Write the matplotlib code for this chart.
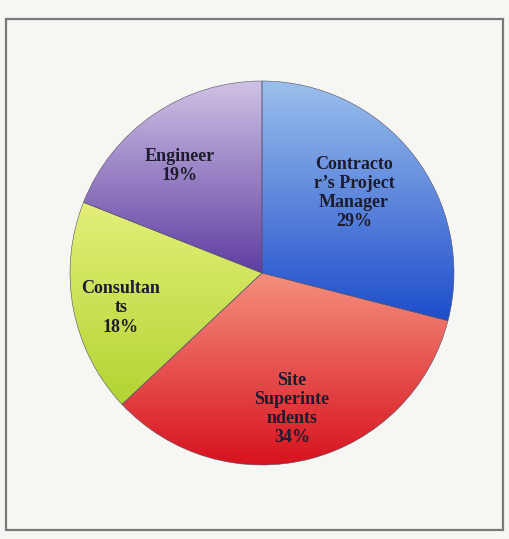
import matplotlib.pyplot as plt
import numpy as np
from matplotlib.colors import LinearSegmentedColormap
from matplotlib.patches import Rectangle

labels = ["Contracto\nr’s Project\nManager", "Site\nSuperinte\nndents", "Consultan\nts", "Engineer"]
shares = [29, 34, 18, 19]
# light (top) and dark (bottom) shade for each slice
tops = ["#9cc0ec", "#f4907e", "#e4ef7a", "#cfc2e4"]
bottoms = ["#1d4ccb", "#d8121f", "#b2d432", "#5e3ea2"]

W, H = 510, 539
fig = plt.figure(figsize=(W / 100, H / 100), dpi=100)
fig.patch.set_facecolor("#f6f7f3")
ax = fig.add_axes([0, 0, 1, 1])

cx, cy, r = 262, H - 273, 192

wedges, _ = ax.pie(shares, startangle=90, counterclock=False,
                   center=(cx, cy), radius=r, frame=True)
ax.set_xlim(0, W)
ax.set_ylim(0, H)
ax.set_aspect("equal")
ax.axis("off")

grad = np.linspace(0, 1, 256).reshape(-1, 1)
for w, c0, c1 in zip(wedges, tops, bottoms):
    # bounding box of the slice, so each one shades top to bottom on its own
    t = np.radians(np.linspace(w.theta1, w.theta2, 200))
    xs = np.append(cx + r * np.cos(t), cx)
    ys = np.append(cy + r * np.sin(t), cy)
    cmap = LinearSegmentedColormap.from_list("g", [c0, c1])
    im = ax.imshow(grad, cmap=cmap, aspect="auto", origin="upper",
                   extent=(xs.min(), xs.max(), ys.min(), ys.max()), zorder=1)
    im.set_clip_path(w)
    w.set_facecolor("none")
    w.set_edgecolor("#55506a")
    w.set_linewidth(0.4)
    w.set_zorder(2)

# label positions in pixel space (from top-left)
label_xy = [(354, 193), (292, 409), (121, 308), (180, 166)]
for txt, pct, (x, y) in zip(labels, shares, label_xy):
    ax.text(x, H - y, f"{txt}\n{pct}%", ha="center", va="center",
            fontsize=13, fontweight="bold", family="Liberation Serif",
            color="#1c1c2e", linespacing=1.17, zorder=3)

ax.add_patch(Rectangle((6, H - 530), 497, 511, fill=False,
                       edgecolor="#7a7a7a", lw=1.6, zorder=4))

fig.savefig("out.png", dpi=100, facecolor=fig.get_facecolor())
